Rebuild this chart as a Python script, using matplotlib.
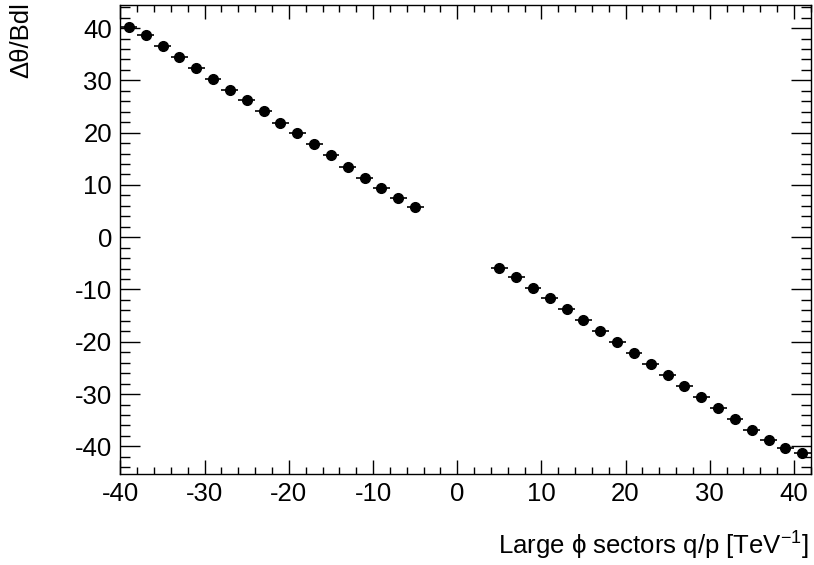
import matplotlib
matplotlib.use("Agg")
import matplotlib.pyplot as plt
from matplotlib.ticker import MultipleLocator
import numpy as np

plt.rcParams['font.family'] = ['Liberation Sans', 'DejaVu Sans']
plt.rcParams['mathtext.fontset'] = 'custom'
plt.rcParams['mathtext.rm'] = 'Liberation Sans'
plt.rcParams['mathtext.it'] = 'Liberation Sans:italic'
plt.rcParams['axes.unicode_minus'] = False

# Bin centres (q/p, TeV^-1) and mean deflection per field integral
neg_x = [-39, -37, -35, -33, -31, -29, -27, -25, -23, -21,
         -19, -17, -15, -13, -11, -9, -7, -5]
neg_y = [40.2, 38.6, 36.6, 34.5, 32.4, 30.3, 28.2, 26.3, 24.1, 21.9,
         19.9, 17.8, 15.7, 13.5, 11.4, 9.4, 7.5, 5.7]
pos_x = [5, 7, 9, 11, 13, 15, 17, 19, 21, 23,
         25, 27, 29, 31, 33, 35, 37, 39, 41]
pos_y = [-5.9, -7.6, -9.7, -11.7, -13.8, -15.8, -17.9, -20.0, -22.2, -24.3,
         -26.3, -28.4, -30.5, -32.6, -34.7, -36.8, -38.8, -40.4, -41.2]
bin_half_width = 1.0

x_label = r"Large ϕ sectors q/p [TeV$^{\mathregular{-1}}$]"
y_label = "Δθ/Bdl"

fig = plt.figure(figsize=(8.14, 5.65), dpi=100)
ax = fig.add_axes([0.148, 0.161, 0.848, 0.830])

x = np.array(neg_x + pos_x, dtype=float)
y = np.array(neg_y + pos_y, dtype=float)
ax.errorbar(x, y, xerr=bin_half_width, fmt='o', color='black',
            markersize=7, elinewidth=1.2, capsize=0)

ax.set_xlim(-40, 42)
ax.set_ylim(-45.3, 44.4)

ax.xaxis.set_major_locator(MultipleLocator(10))
ax.xaxis.set_minor_locator(MultipleLocator(2))
ax.yaxis.set_major_locator(MultipleLocator(10))
ax.yaxis.set_minor_locator(MultipleLocator(2))

ax.tick_params(axis='both', which='both', direction='in',
               top=True, right=True, labelsize=18.5, width=1.0)
ax.tick_params(axis='x', which='major', length=10, pad=6)
ax.tick_params(axis='x', which='minor', length=5)
ax.tick_params(axis='y', which='major', length=14.5, pad=6)
ax.tick_params(axis='y', which='minor', length=7.2)
for s in ax.spines.values():
    s.set_linewidth(1.0)

fig.text(0.994, 1 - 546 / 565, x_label, ha='right', va='center', fontsize=18.5)
fig.text(0.026, 0.997, y_label, ha='center', va='top', rotation=90, fontsize=18.5)

fig.savefig("out.png", dpi=100)
